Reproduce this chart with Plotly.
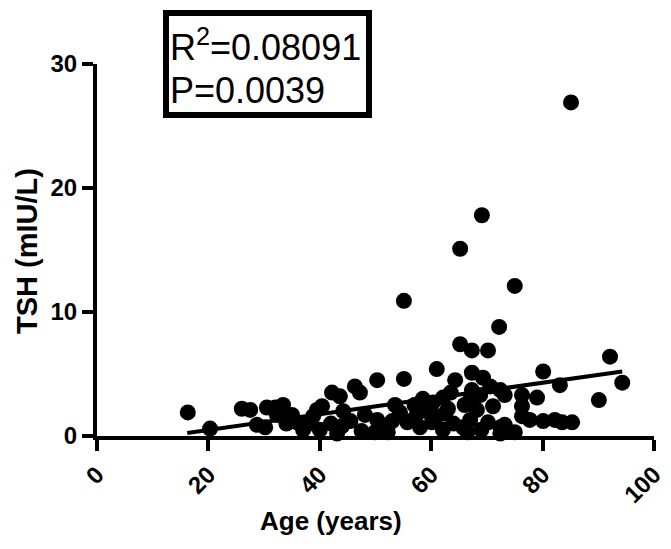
import plotly.graph_objects as go

# ---- data ----
age = [16.3, 20.3, 26.0, 27.5, 28.7, 30.2, 30.5, 32.0, 33.4, 32.3, 35.0, 35.9, 37.7, 39.5,
       38.8, 40.4, 40.0, 42.2, 43.6, 44.2, 44.0, 43.1, 46.3, 47.2, 48.1, 50.3, 50.3, 51.2,
       52.2, 49.9, 54.4, 55.1, 55.1, 55.7, 56.7, 58.0, 59.2, 60.1, 60.3, 61.0, 61.0, 62.1,
       62.1, 64.3, 65.2, 65.2, 65.7, 67.0, 67.0, 67.3, 67.3, 67.3, 68.2, 69.1, 69.3, 70.2,
       70.2, 70.6, 71.1, 72.2, 72.4, 72.4, 72.4, 73.2, 73.2, 75.0, 75.0, 76.3, 76.3, 76.3,
       77.7, 79.0, 80.1, 80.1, 82.2, 83.1, 83.5, 85.1, 85.3, 90.1, 92.1, 94.3,
       57.0, 58.5, 63.0, 64.0, 66.0, 68.8, 63.5, 45.5, 47.5, 53.0, 57.5, 62.5, 66.5, 69.0,
       37.0, 34.0, 42.0, 53.5]
tsh = [1.9, 0.6, 2.2, 2.1, 0.9, 0.7, 2.3, 2.3, 2.5, 1.7, 1.7, 1.1, 0.9, 2.1,
       1.6, 2.4, 0.5, 3.5, 3.2, 2.0, 0.8, 0.2, 4.0, 3.5, 1.7, 4.5, 1.3, 0.5,
       0.3, 0.3, 1.9, 4.6, 10.9, 1.1, 1.3, 0.7, 2.0, 1.1, 2.7, 5.4, 1.6, 3.1,
       0.5, 4.5, 7.4, 15.1, 0.7, 2.9, 1.3, 6.9, 5.1, 3.7, 2.1, 17.8, 4.7, 6.9,
       1.1, 4.0, 2.4, 8.8, 3.7, 0.7, 0.2, 3.3, 0.9, 12.1, 0.3, 3.3, 2.4, 1.6,
       1.3, 3.1, 5.2, 1.2, 1.3, 4.1, 1.1, 26.9, 1.1, 2.9, 6.4, 4.3,
       2.5, 3.0, 2.2, 1.0, 2.5, 3.3, 3.5, 1.2, 0.4, 1.2, 1.8, 1.8, 0.3, 0.5,
       0.5, 1.0, 1.0, 2.5]

fit_age = [16.2, 94.3]
fit_tsh = [0.25, 5.2]

x_ticks = [0, 20, 40, 60, 80, 100]
y_ticks = [0, 10, 20, 30]

stats_lines = ["R<sup>2</sup>=0.08091", "P=0.0039"]
x_title = "Age (years)"
y_title = "TSH (mIU/L)"

# ---- layout geometry (pixels) ----
W, H = 671, 549
L, R, T, B = 97, 654, 64, 436


def px(xp):
    return (xp - L) / (R - L)


def py(yp):
    return (B - yp) / (B - T)


FONT = "Liberation Sans, Arial, sans-serif"

fig = go.Figure()
fig.add_trace(go.Scatter(
    x=fit_age, y=fit_tsh, mode="lines",
    line=dict(color="black", width=4), cliponaxis=False, hoverinfo="skip"))
fig.add_trace(go.Scatter(
    x=age, y=tsh, mode="markers",
    marker=dict(color="black", size=16, line=dict(width=0)),
    cliponaxis=False))

axis_common = dict(
    showgrid=False, zeroline=False, showline=True, linecolor="black", linewidth=4,
    ticks="outside", ticklen=11, tickwidth=4, tickcolor="black", automargin=False,
    tickfont=dict(family=FONT, size=24, color="black", weight="bold"),
)
fig.update_xaxes(range=[0, 100], tickvals=x_ticks, tickangle=-45, **axis_common)
fig.update_yaxes(range=[0, 30], tickvals=y_ticks, **axis_common)

fig.add_shape(type="rect", xref="paper", yref="paper",
              x0=px(166), x1=px(369), y0=py(115), y1=py(13),
              line=dict(color="black", width=6), fillcolor="rgba(0,0,0,0)")

fig.add_annotation(text=stats_lines[0], xref="paper", yref="paper", x=px(168), y=py(45),
                   xanchor="left", yanchor="middle", showarrow=False,
                   font=dict(family=FONT, size=36, color="black"))
fig.add_annotation(text=stats_lines[1], xref="paper", yref="paper", x=px(168), y=py(90),
                   xanchor="left", yanchor="middle", showarrow=False,
                   font=dict(family=FONT, size=36, color="black"))
fig.add_annotation(text=x_title, xref="paper", yref="paper", x=px(331), y=py(521),
                   xanchor="center", yanchor="middle", showarrow=False,
                   font=dict(family=FONT, size=26, color="black", weight="bold"))
fig.add_annotation(text=y_title, xref="paper", yref="paper", x=px(27), y=py(251),
                   xanchor="center", yanchor="middle", showarrow=False, textangle=-90,
                   font=dict(family=FONT, size=29, color="black", weight="bold"))

fig.update_layout(
    width=W, height=H, showlegend=False,
    margin=dict(l=L, r=W - R, t=T, b=H - B),
    plot_bgcolor="white", paper_bgcolor="white",
)

fig.write_html("out.html", config={"displayModeBar": False},
               post_script="document.body.style.margin='0px';document.body.style.overflow='hidden';")
